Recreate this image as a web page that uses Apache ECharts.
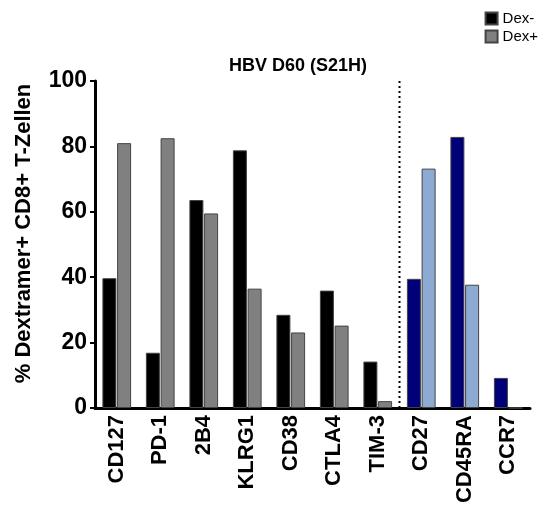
<!DOCTYPE html>
<html>
<head>
<meta charset="utf-8">
<script src="https://cdn.jsdelivr.net/npm/echarts@6/dist/echarts.min.js"></script>
<style>
html, body { margin: 0; padding: 0; background: #fff; }
#main { width: 551px; height: 509px; }
</style>
</head>
<body>
<div id="main"></div>
<script>
var font = "'Liberation Sans', Arial, sans-serif";

// marker categories
var markers = ['CD127', 'PD-1', '2B4', 'KLRG1', 'CD38', 'CTLA4', 'TIM-3', 'CD27', 'CD45RA', 'CCR7'];
// % Dextramer+ CD8+ T cells
var dexNeg = [39.7, 16.9, 63.6, 78.8, 28.5, 35.9, 14.2, 39.5, 82.9, 9.2];
var dexPos = [81.0, 82.5, 59.5, 36.5, 23.1, 25.2, 2.1, 73.2, 37.7, 0];
var yTicks = [0, 20, 40, 60, 80, 100];
// divider between the two marker groups (position on category scale)
var dividerAt = 7;

var blueFrom = 7; // memory markers are drawn in blue
function colorData(vals, normal, blue) {
	var out = [];
	for (var i = 0; i < vals.length; i++) {
		out.push({ value: vals[i], itemStyle: { color: i >= blueFrom ? blue : normal } });
	}
	return out;
}

var option = {
	animation: false,
	title: {
		text: 'HBV D60 (S21H)',
		left: 293,
		top: 52,
		textAlign: 'center',
		textStyle: { fontFamily: font, fontWeight: 'bold', fontSize: 18, color: '#000' }
	},
	legend: {
		orient: 'vertical',
		right: 8,
		top: 6,
		itemWidth: 12,
		itemHeight: 12,
		itemGap: 3,
		icon: 'rect',
		textStyle: { fontFamily: font, fontSize: 15, color: '#000' },
		data: ['Dex-', 'Dex+']
	},
	grid: { left: 95, right: 21, top: 81, bottom: 101, containLabel: false },
	xAxis: [{
		type: 'category',
		data: markers,
		axisLine: { lineStyle: { color: '#000', width: 3 } },
		axisTick: { alignWithLabel: true, length: 5, lineStyle: { color: '#000', width: 2 } },
		axisLabel: {
			rotate: 90,
			margin: 7,
			interval: 0,
			fontFamily: font,
			fontWeight: 'bold',
			fontSize: 22,
			color: '#000'
		}
	}, {
		type: 'value',
		min: 0,
		max: markers.length,
		show: false
	}],
	yAxis: {
		type: 'value',
		min: yTicks[0],
		max: yTicks[yTicks.length - 1],
		interval: 20,
		name: '% Dextramer+ CD8+ T-Zellen',
		nameLocation: 'middle',
		nameGap: 60,
		nameTextStyle: { fontFamily: font, fontWeight: 'bold', fontSize: 22, color: '#000', padding: [0, 0, 0, 22] },
		axisLine: { show: true, lineStyle: { color: '#000', width: 3 } },
		axisTick: { show: true, length: 5, lineStyle: { color: '#000', width: 2 } },
		axisLabel: { margin: 8, fontFamily: font, fontWeight: 'bold', fontSize: 23, color: '#000' },
		splitLine: { show: false }
	},
	series: [{
		name: 'Dex-',
		type: 'bar',
		barWidth: 14,
		barGap: '5%',
		itemStyle: { color: '#000', borderColor: '#444', borderWidth: 1 },
		data: colorData(dexNeg, '#000', '#000078')
	}, {
		name: 'Dex+',
		type: 'bar',
		barWidth: 14,
		itemStyle: { color: '#808080', borderColor: '#444', borderWidth: 1 },
		data: colorData(dexPos, '#808080', '#8DAAD3')
	}, {
		name: 'divider',
		type: 'line',
		xAxisIndex: 1,
		symbol: 'none',
		silent: true,
		lineStyle: { color: '#000', width: 2, type: [2, 3] },
		data: [[dividerAt, yTicks[0]], [dividerAt, yTicks[yTicks.length - 1]]]
	}]
};

var chart = echarts.init(document.getElementById('main'));
chart.setOption(option);
</script>
</body>
</html>
